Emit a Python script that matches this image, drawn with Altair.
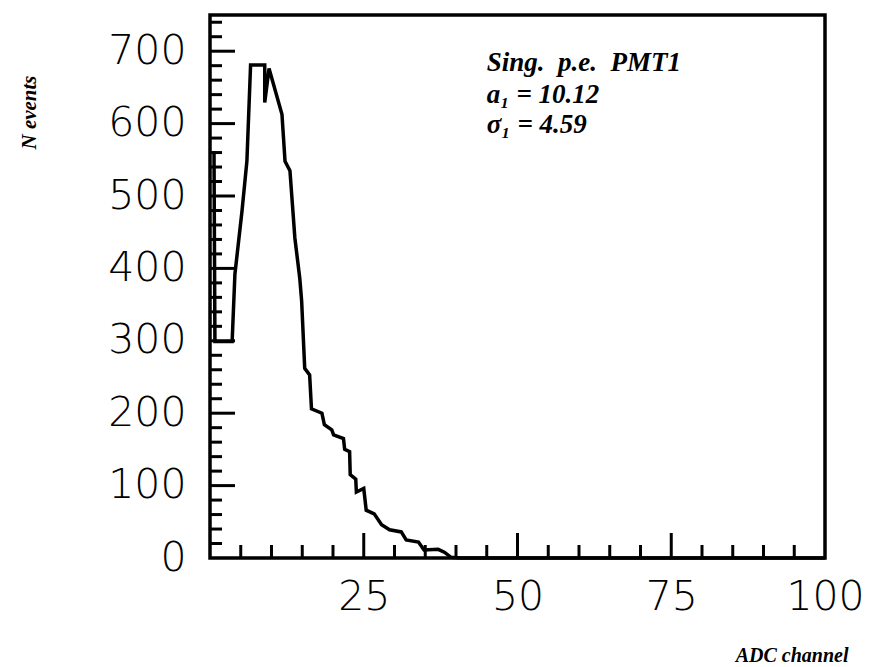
import altair as alt
import pandas as pd

# Histogram outline (ADC channel, N events)
adc = [0.65, 0.8, 3.6, 4.05, 5.2, 6.0, 6.6, 8.9, 8.9, 9.6, 11.7, 12.2, 13.0, 13.8,
       14.6, 14.9, 15.4, 16.2, 16.5, 18.2, 18.6, 19.8, 20.1, 21.7, 21.9, 22.7, 22.8,
       23.7, 23.8, 25.0, 25.4, 26.7, 27.9, 29.2, 31.1, 31.9, 33.9, 34.8, 37.1, 38.1,
       39.2, 40.8, 100.0]
counts = [562, 299, 299, 392, 479, 548, 681, 681, 629, 676, 613, 548, 535, 442,
          386, 355, 262, 253, 206, 200, 184, 177, 170, 165, 150, 147, 115,
          109, 91, 96, 66, 61, 46, 39, 36, 25, 22, 11, 12, 8,
          1, 0, 0]

x_labels = [25, 50, 75, 100]
y_labels = [0, 100, 200, 300, 400, 500, 600, 700]
x_major = [25, 50, 75]
x_minor = [5, 10, 15, 20, 30, 35, 40, 45, 55, 60, 65, 70, 80, 85, 90, 95]
y_major = [100, 200, 300, 400, 500, 600, 700]
y_minor = [20, 40, 60, 80, 120, 140, 160, 180, 220, 240, 260, 280, 320, 340, 360, 380,
           420, 440, 460, 480, 520, 540, 560, 580, 620, 640, 660, 680, 720, 740]

ann_text = ["Sing.\u2002p.e.\u2002PMT1", "a\u2081 = 10.12", "\u03c3\u2081 = 4.59"]
ann_x = [45, 45, 45]
ann_y = [672, 629, 587]

W, H = 615, 543
XD = [0, 100]
YD = [0, 750]

hist = pd.DataFrame({"adc": adc, "n": counts, "i": list(range(len(adc)))})

xs = alt.Scale(domain=XD, nice=False, zero=False)
ys = alt.Scale(domain=YD, nice=False)

lab_font = "DejaVu Sans"
tfont = "Liberation Serif"

line = alt.Chart(hist).mark_line(color="black", strokeWidth=3.5, strokeJoin="miter").encode(
    x=alt.X("adc:Q", scale=xs,
            axis=alt.Axis(values=x_labels, ticks=False, domain=False, grid=False,
                          labelFont=lab_font, labelFontSize=41, labelFontWeight=200,
                          labelColor="black", labelPadding=19, labelFlush=False,
                          title="ADC channel", titleFont=tfont, titleFontSize=20,
                          titleFontStyle="italic", titleFontWeight="bold",
                          titleColor="black", titleAnchor="end", titleAlign="right",
                          titleX=638, titleY=107, titleBaseline="bottom")),
    y=alt.Y("n:Q", scale=ys,
            axis=alt.Axis(values=y_labels, ticks=False, domain=False, grid=False,
                          labelFont=lab_font, labelFontSize=41, labelFontWeight=200,
                          labelColor="black", labelPadding=24, labelFlush=False,
                          title="N events", titleFont=tfont, titleFontSize=21,
                          titleFontStyle="italic", titleFontWeight="bold",
                          titleColor="black", titleAngle=-90, titleX=-181, titleY=97,
                          titleAlign="center", titleBaseline="middle")),
    order="i:Q",
)

def xt(vals, length):
    d = pd.DataFrame({"v": vals})
    return alt.Chart(d).mark_rule(color="black", strokeWidth=3).encode(
        x=alt.X("v:Q", scale=xs), y=alt.value(H), y2=alt.value(H - length))

def yt(vals, length):
    d = pd.DataFrame({"v": vals})
    return alt.Chart(d).mark_rule(color="black", strokeWidth=3).encode(
        y=alt.Y("v:Q", scale=ys), x=alt.value(0), x2=alt.value(length))

ann = alt.Chart(pd.DataFrame({"t": ann_text, "x": ann_x, "y": ann_y})).mark_text(
    font=tfont, fontSize=27, fontStyle="italic", fontWeight="bold", color="black",
    align="left", baseline="alphabetic").encode(
    x=alt.X("x:Q", scale=xs), y=alt.Y("y:Q", scale=ys), text="t:N")

chart = alt.layer(
    line, xt(x_major, 25), xt(x_minor, 13), yt(y_major, 25), yt(y_minor, 12), ann
).properties(
    width=W, height=H,
    autosize=alt.AutoSizeParams(type="none"),
    padding={"left": 210, "top": 15, "right": 46, "bottom": 109},
    background="white",
).configure_view(stroke="black", strokeWidth=3.5)

chart.save("out.html", embed_options={"renderer": "svg", "actions": False})
